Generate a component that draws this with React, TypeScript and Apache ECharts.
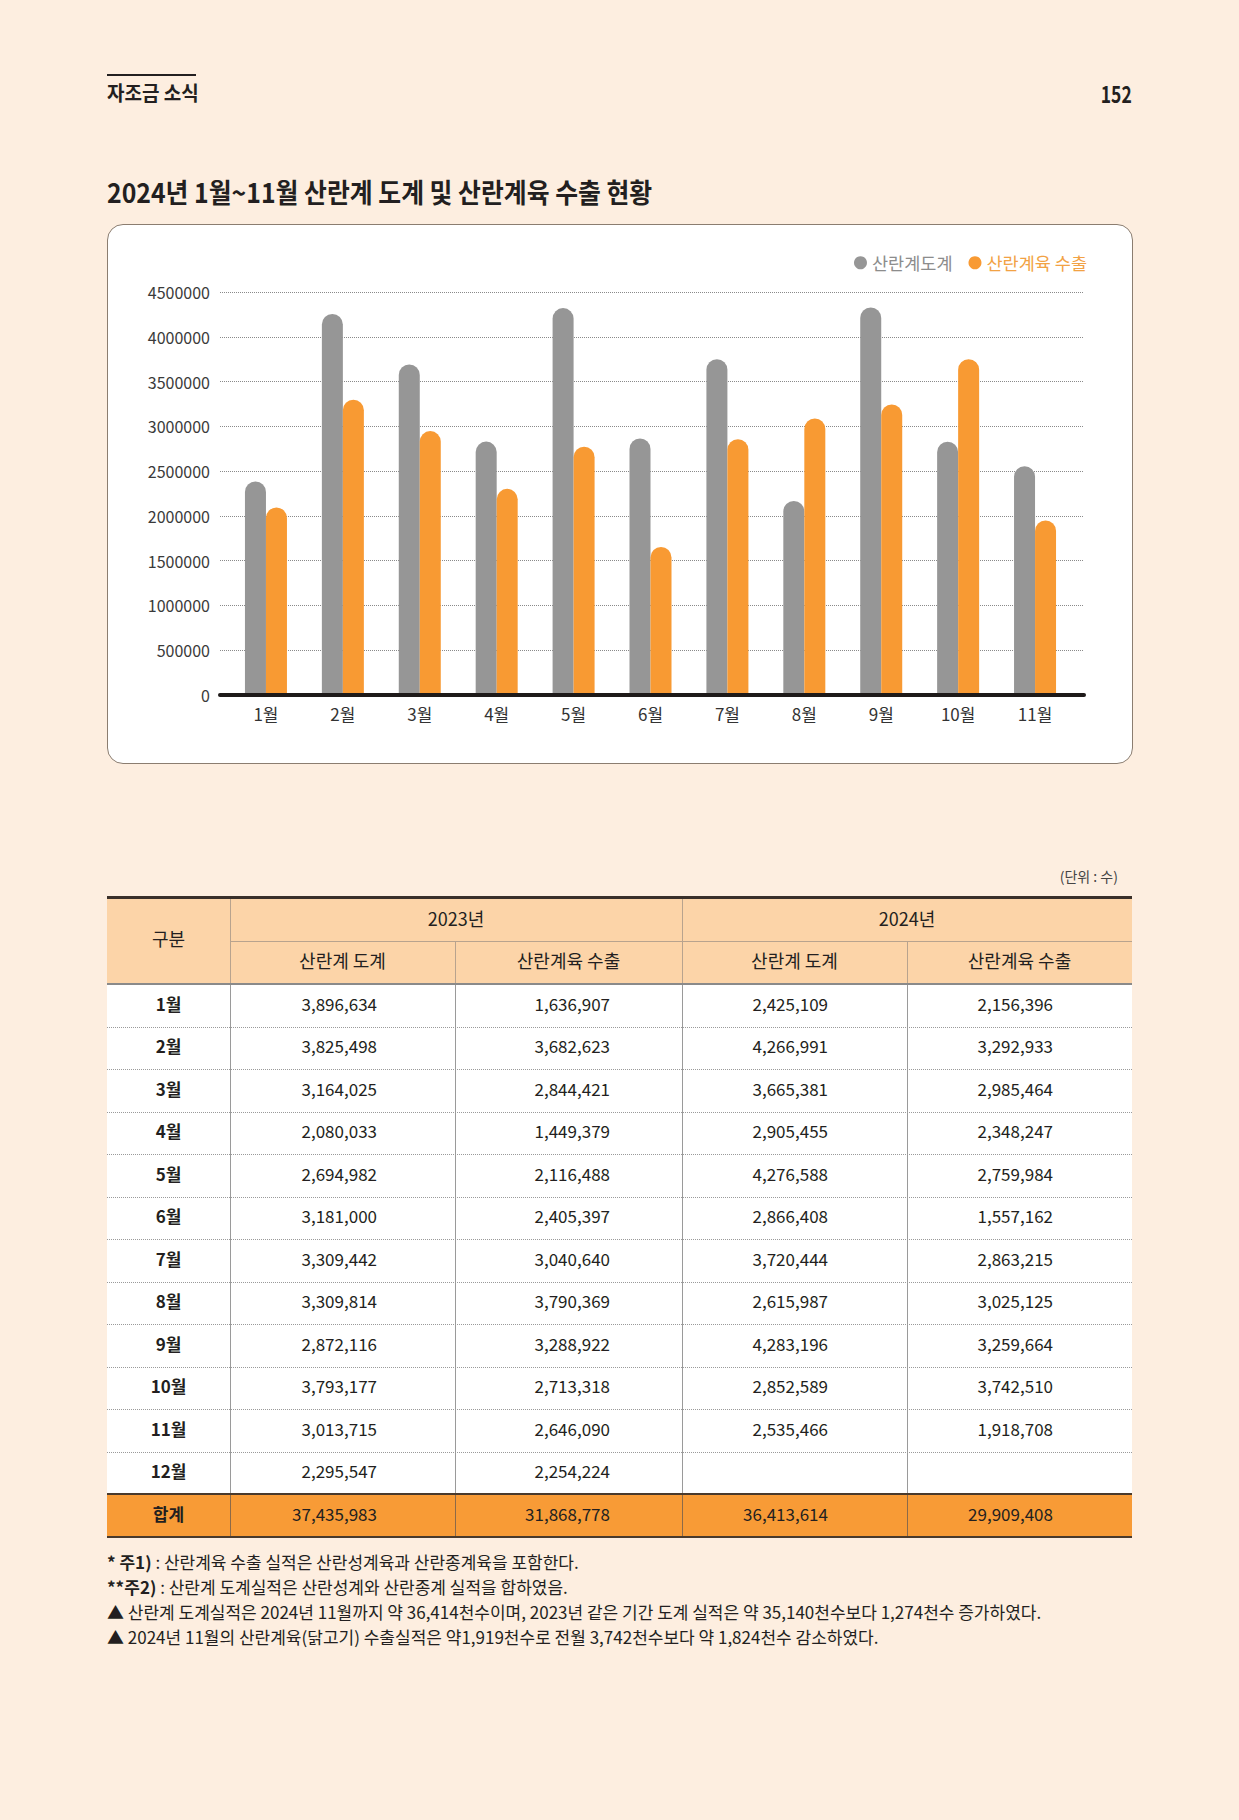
import React, { useEffect, useRef } from "react";
import * as echarts from "echarts";

// ---------- chart data ----------
const months = ["1월", "2월", "3월", "4월", "5월", "6월", "7월", "8월", "9월", "10월", "11월"];
const slaughterName = "산란계도계";
const exportName = "산란계육 수출";
const slaughterChart = [2385000, 4255000, 3690000, 2830000, 4320000, 2865000, 3750000, 2166000, 4328000, 2828000, 2555000];
const exportChart = [2094000, 3297000, 2947000, 2302000, 2772000, 1654000, 2857000, 3088000, 3245000, 3749000, 1949000];
const yMin = 0;
const yMax = 4500000;
const yInterval = 500000;

// ---------- table data ----------
const tableMonths = ["1월", "2월", "3월", "4월", "5월", "6월", "7월", "8월", "9월", "10월", "11월", "12월"];
const slaughter2023 = ["3,896,634", "3,825,498", "3,164,025", "2,080,033", "2,694,982", "3,181,000", "3,309,442", "3,309,814", "2,872,116", "3,793,177", "3,013,715", "2,295,547"];
const export2023 = ["1,636,907", "3,682,623", "2,844,421", "1,449,379", "2,116,488", "2,405,397", "3,040,640", "3,790,369", "3,288,922", "2,713,318", "2,646,090", "2,254,224"];
const slaughter2024 = ["2,425,109", "4,266,991", "3,665,381", "2,905,455", "4,276,588", "2,866,408", "3,720,444", "2,615,987", "4,283,196", "2,852,589", "2,535,466", ""];
const export2024 = ["2,156,396", "3,292,933", "2,985,464", "2,348,247", "2,759,984", "1,557,162", "2,863,215", "3,025,125", "3,259,664", "3,742,510", "1,918,708", ""];
const totals = ["37,435,983", "31,868,778", "36,413,614", "29,909,408"];
const yearHeaders = ["2023년", "2024년"];
const subHeaders = ["산란계 도계", "산란계육 수출", "산란계 도계", "산란계육 수출"];

const notes: { bold: string; rest: string }[] = [
  { bold: "* 주1)", rest: " : 산란계육 수출 실적은 산란성계육과 산란종계육을 포함한다." },
  { bold: "**주2)", rest: " : 산란계 도계실적은 산란성계와 산란종계 실적을 합하였음." },
  { bold: "", rest: "▲ 산란계 도계실적은 2024년 11월까지 약 36,414천수이며, 2023년 같은 기간 도계 실적은 약 35,140천수보다 1,274천수 증가하였다." },
  { bold: "", rest: "▲ 2024년 11월의 산란계육(닭고기) 수출실적은 약1,919천수로 전월 3,742천수보다 약 1,824천수 감소하였다." },
];

// ---------- styles ----------
const FONT = '"Noto Sans CJK KR", "Noto Sans", sans-serif';
const PAGE_BG = "#fdeee0";
const INK = "#231f20";
const GRAY_BAR = "#969696";
const ORANGE_BAR = "#f89a33";
const HEADER_BG = "#fcd4a8";
const TOTAL_BG = "#f89b36";

const colX = [107, 230, 455, 682, 907, 1132];
const numPad = [78, 72, 79, 79];
const tableTop = 897;
const headMid = 941;
const bodyTop = 984;
const rowH = 42.5;
const totalTop = bodyTop + rowH * 12;
const totalH = 43;
const TY = -2; // optical vertical shift for table texts

type TxtProps = {
  x: number;
  y: number;
  size: number;
  bold?: boolean;
  align?: "left" | "right" | "center";
  color?: string;
  sx?: number;
  children: React.ReactNode;
};

function Txt({ x, y, size, bold, align = "left", color = INK, sx = 1, children }: TxtProps) {
  const h = Math.round(size * 1.6);
  const style: React.CSSProperties = {
    position: "absolute",
    top: y - h / 2,
    height: h,
    lineHeight: h + "px",
    fontSize: size,
    fontWeight: bold ? 700 : 400,
    color,
    whiteSpace: "nowrap",
    fontFamily: FONT,
    transform: sx !== 1 ? `scaleX(${sx})` : undefined,
  };
  if (align === "left") {
    style.left = x;
    style.transformOrigin = "left center";
  } else if (align === "right") {
    style.right = 1239 - x;
    style.transformOrigin = "right center";
    style.textAlign = "right";
  } else {
    style.left = x - 300;
    style.width = 600;
    style.textAlign = "center";
    style.transformOrigin = "center center";
  }
  return <div style={style}>{children}</div>;
}

function Rect(props: { x: number; y: number; w: number; h: number; bg?: string; borderTop?: string }) {
  return (
    <div
      style={{
        position: "absolute",
        left: props.x,
        top: props.y,
        width: props.w,
        height: props.h,
        background: props.bg,
        borderTop: props.borderTop,
        boxSizing: "border-box",
      }}
    />
  );
}

function buildOption() {
  return {
    animation: false,
    backgroundColor: "transparent",
    textStyle: { fontFamily: FONT },
    legend: {
      right: 41,
      top: 25,
      icon: "circle",
      itemWidth: 13,
      itemHeight: 13,
      itemGap: 16,
      textStyle: { fontSize: 17.5, fontFamily: FONT },
      data: [
        { name: slaughterName, textStyle: { color: "#8c8c8c" } },
        { name: exportName, textStyle: { color: "#f2a244" } },
      ],
    },
    grid: [
      { left: 120.5, top: 68, width: 846, height: 403 },
      { left: 113, top: 68, width: 864, height: 403 },
    ],
    xAxis: [
      {
        gridIndex: 0,
        type: "category",
        data: months,
        axisLine: { show: false },
        axisTick: { show: false },
        splitLine: { show: false },
        axisLabel: { fontSize: 17, color: "#333", margin: 10, fontFamily: FONT },
      },
      {
        gridIndex: 1,
        type: "value",
        min: 0,
        max: 1,
        z: 5,
        axisLine: { show: true, onZero: false, lineStyle: { color: "#1e1a19", width: 4 } },
        axisTick: { show: false },
        axisLabel: { show: false },
        splitLine: { show: false },
      },
    ],
    yAxis: [
      { gridIndex: 0, type: "value", min: yMin, max: yMax, interval: yInterval, show: false, splitLine: { show: false } },
      {
        gridIndex: 1,
        type: "value",
        min: yMin,
        max: yMax,
        interval: yInterval,
        axisLine: { show: false },
        axisTick: { show: false },
        axisLabel: {
          fontSize: 16,
          color: "#3a3a3a",
          margin: 10,
          fontFamily: FONT,
          formatter: (v: number) => String(v),
        },
        splitLine: { show: true, lineStyle: { color: "#8a8a8a", width: 1, type: [1, 1] } },
      },
    ],
    series: [
      {
        name: slaughterName,
        type: "bar",
        xAxisIndex: 0,
        yAxisIndex: 0,
        data: slaughterChart,
        barWidth: 21,
        barGap: "0%",
        itemStyle: { color: GRAY_BAR, borderRadius: [10.5, 10.5, 0, 0] },
      },
      {
        name: exportName,
        type: "bar",
        xAxisIndex: 0,
        yAxisIndex: 0,
        data: exportChart,
        barWidth: 21,
        barGap: "0%",
        itemStyle: { color: ORANGE_BAR, borderRadius: [10.5, 10.5, 0, 0] },
      },
      { type: "scatter", xAxisIndex: 1, yAxisIndex: 1, data: [], silent: true },
    ],
  };
}

export default function App() {
  const chartRef = useRef<HTMLDivElement>(null);

  useEffect(() => {
    const prevMargin = document.body.style.margin;
    document.body.style.margin = "0";
    document.body.style.background = PAGE_BG;
    const chart = echarts.init(chartRef.current as HTMLDivElement, undefined, { renderer: "svg" });
    chart.setOption(buildOption() as any);
    return () => {
      chart.dispose();
      document.body.style.margin = prevMargin;
    };
  }, []);

  const lineColor = "#9a9a9a";
  const headLine = "#b8a38e";
  const elems: React.ReactNode[] = [];

  // table header background
  elems.push(<Rect key="hbg" x={colX[0]} y={tableTop} w={colX[5] - colX[0]} h={bodyTop - tableTop} bg={HEADER_BG} />);
  // body background
  elems.push(<Rect key="bbg" x={colX[0]} y={bodyTop} w={colX[5] - colX[0]} h={totalTop - bodyTop} bg="#ffffff" />);
  // total background
  elems.push(<Rect key="tbg" x={colX[0]} y={totalTop} w={colX[5] - colX[0]} h={totalH} bg={TOTAL_BG} />);

  // header lines
  elems.push(<Rect key="hmid" x={colX[1]} y={headMid} w={colX[5] - colX[1]} h={1} bg={headLine} />);
  elems.push(<Rect key="hv1" x={colX[1]} y={tableTop} w={1} h={bodyTop - tableTop} bg={headLine} />);
  elems.push(<Rect key="hv3" x={colX[3]} y={tableTop} w={1} h={bodyTop - tableTop} bg={headLine} />);
  elems.push(<Rect key="hv2" x={colX[2]} y={headMid} w={1} h={bodyTop - headMid} bg={headLine} />);
  elems.push(<Rect key="hv4" x={colX[4]} y={headMid} w={1} h={bodyTop - headMid} bg={headLine} />);

  // body vertical lines
  for (let c = 1; c <= 4; c++) {
    elems.push(<Rect key={"bv" + c} x={colX[c]} y={bodyTop} w={1} h={totalTop - bodyTop} bg={lineColor} />);
    elems.push(<Rect key={"tv" + c} x={colX[c]} y={totalTop} w={1} h={totalH} bg="#8d6a48" />);
  }
  // dotted row separators
  for (let r = 1; r < 12; r++) {
    elems.push(
      <Rect key={"rs" + r} x={colX[0]} y={Math.round(bodyTop + r * rowH)} w={colX[5] - colX[0]} h={1} borderTop={"1px dotted " + lineColor} />
    );
  }
  // thick lines
  elems.push(<Rect key="top" x={colX[0]} y={tableTop - 1} w={colX[5] - colX[0]} h={3} bg="#3a302a" />);
  elems.push(<Rect key="hb" x={colX[0]} y={bodyTop - 1} w={colX[5] - colX[0]} h={2} bg="#8a8a8a" />);
  elems.push(<Rect key="tt" x={colX[0]} y={totalTop - 1} w={colX[5] - colX[0]} h={2} bg="#4a3a2c" />);
  elems.push(<Rect key="tb" x={colX[0]} y={totalTop + totalH - 1} w={colX[5] - colX[0]} h={2} bg="#4a3a2c" />);

  // header texts
  elems.push(
    <Txt key="gubun" x={(colX[0] + colX[1]) / 2} y={(tableTop + bodyTop) / 2 + TY} size={18} align="center">
      구분
    </Txt>
  );
  elems.push(
    <Txt key="y23" x={(colX[1] + colX[3]) / 2} y={(tableTop + headMid) / 2 + TY + 1} size={18} align="center">
      {yearHeaders[0]}
    </Txt>
  );
  elems.push(
    <Txt key="y24" x={(colX[3] + colX[5]) / 2} y={(tableTop + headMid) / 2 + TY + 1} size={18} align="center">
      {yearHeaders[1]}
    </Txt>
  );
  subHeaders.forEach((s, i) => {
    elems.push(
      <Txt key={"sh" + i} x={(colX[i + 1] + colX[i + 2]) / 2} y={(headMid + bodyTop) / 2 + TY} size={18} align="center">
        {s}
      </Txt>
    );
  });

  // body texts
  const cols = [slaughter2023, export2023, slaughter2024, export2024];
  tableMonths.forEach((m, r) => {
    const cy = bodyTop + r * rowH + rowH / 2 + TY;
    elems.push(
      <Txt key={"m" + r} x={(colX[0] + colX[1]) / 2} y={cy} size={17} bold align="center">
        {m}
      </Txt>
    );
    cols.forEach((col, c) => {
      if (col[r]) {
        elems.push(
          <Txt key={"v" + r + "_" + c} x={colX[c + 2] - numPad[c]} y={cy} size={17} align="right">
            {col[r]}
          </Txt>
        );
      }
    });
  });
  const tcy = totalTop + totalH / 2 + TY;
  elems.push(
    <Txt key="tl" x={(colX[0] + colX[1]) / 2} y={tcy} size={17} bold align="center">
      합계
    </Txt>
  );
  totals.forEach((t, c) => {
    elems.push(
      <Txt key={"t" + c} x={colX[c + 2] - numPad[c]} y={tcy} size={17} align="right">
        {t}
      </Txt>
    );
  });

  const noteYs = [1561, 1586, 1611, 1636];

  return (
    <div
      style={{
        position: "absolute",
        left: 0,
        top: 0,
        width: 1239,
        height: 1820,
        background: PAGE_BG,
        overflow: "hidden",
        fontFamily: FONT,
      }}
    >
      {/* page header */}
      <div style={{ position: "absolute", left: 107, top: 74, width: 89, height: 2, background: INK }} />
      <Txt x={107} y={93} size={20} bold sx={0.95}>
        자조금 소식
      </Txt>
      <Txt x={1132} y={93} size={23} bold align="right" sx={0.76}>
        152
      </Txt>

      {/* title */}
      <Txt x={107} y={191} size={27} bold sx={0.92}>
        2024년 1월~11월 산란계 도계 및 산란계육 수출 현황
      </Txt>

      {/* chart box */}
      <div
        style={{
          position: "absolute",
          left: 107,
          top: 224,
          width: 1026,
          height: 540,
          background: "#ffffff",
          border: "1.5px solid #8b7d70",
          borderRadius: 16,
          boxSizing: "border-box",
        }}
      />
      <div ref={chartRef} style={{ position: "absolute", left: 107, top: 224, width: 1026, height: 540 }} />

      {/* unit */}
      <Txt x={1118} y={876} size={14} align="right" color="#444">
        (단위 : 수)
      </Txt>

      {/* table */}
      {elems}

      {/* notes */}
      {notes.map((n, i) => (
        <Txt key={"n" + i} x={107} y={noteYs[i]} size={17}>
          {n.bold ? <span style={{ fontWeight: 700 }}>{n.bold}</span> : null}
          {n.rest}
        </Txt>
      ))}
    </div>
  );
}
